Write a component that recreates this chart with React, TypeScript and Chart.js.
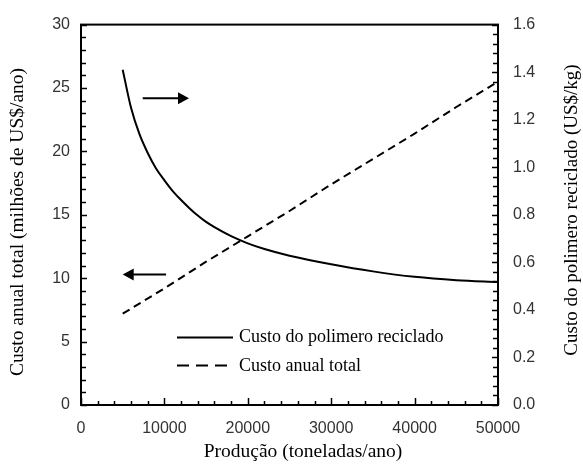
import React, { useEffect, useRef } from "react";
import { Chart, registerables } from "chart.js";

Chart.register(...registerables);

// Production (t/year) sampled along the recycled-polymer cost curve
const productionCurve = [5000, 6000, 7000, 8000, 9000, 10000, 11000, 12000, 13000, 14000, 15000, 16000, 18000, 20000, 22000, 25000, 30000, 35000, 40000, 45000, 50000];
// Recycled polymer cost (US$/kg), right axis
const polymerCost = [1.41, 1.25, 1.14, 1.06, 0.995, 0.945, 0.9, 0.862, 0.828, 0.797, 0.77, 0.748, 0.71, 0.68, 0.656, 0.628, 0.592, 0.562, 0.539, 0.525, 0.517];

// Production (t/year) for the total annual cost line
const productionAnnual = [5000, 10000, 15000, 20000, 25000, 30000, 35000, 40000, 45000, 50000];
// Total annual cost (million US$/year), left axis
const annualCost = [7.2, 9.2, 11.3, 13.3, 15.3, 17.4, 19.4, 21.4, 23.5, 25.5];

// Axis tick labels
const xTicks = [0, 10000, 20000, 30000, 40000, 50000];
const leftTicks = [0, 5, 10, 15, 20, 25, 30];
const rightTicks = [0, 0.2, 0.4, 0.6, 0.8, 1.0, 1.2, 1.4, 1.6];

// Arrows pointing each curve to its axis: [xFrom, xTo, yValue]
const arrowToRight = [7400, 12950, 1.29];
const arrowToLeft = [10200, 5000, 10.3];

const legendLabels = ["Custo do polimero reciclado", "Custo anual total"];

const SERIF = "'Liberation Serif', 'Times New Roman', serif";
const SANS = "'Liberation Sans', Arial, sans-serif";

const decorations = {
  id: "decorations",
  afterDatasetsDraw(chart: any) {
    const { ctx, chartArea, scales } = chart;
    const x = scales.x;
    const yl = scales.y;
    const yr = scales.y1;
    const { left, right, top, bottom } = chartArea;
    ctx.save();

    // inward tick marks
    ctx.strokeStyle = "#000";
    ctx.lineWidth = 1.5;
    ctx.beginPath();
    for (let v = 0; v <= 30; v += 1) {
      const py = Math.round(yl.getPixelForValue(v)) + 0.5;
      const len = v % 5 === 0 ? 6 : 5;
      ctx.moveTo(left, py);
      ctx.lineTo(left + len, py);
    }
    for (let i = 0; i <= 40; i++) {
      const py = Math.round(yr.getPixelForValue(i * 0.04)) + 0.5;
      const len = i % 5 === 0 ? 6 : 5;
      ctx.moveTo(right, py);
      ctx.lineTo(right - len, py);
    }
    for (let v = 0; v <= 50000; v += 2000) {
      const px = Math.round(x.getPixelForValue(v)) + 0.5;
      const len = v % 10000 === 0 ? 7 : 4;
      ctx.moveTo(px, bottom);
      ctx.lineTo(px, bottom - len);
    }
    ctx.stroke();

    // plot frame
    ctx.lineWidth = 2;
    ctx.strokeRect(left, top, right - left, bottom - top);

    // arrows
    const drawArrow = (x0: number, x1: number, py: number) => {
      const dir = x1 > x0 ? 1 : -1;
      ctx.lineWidth = 2;
      ctx.beginPath();
      ctx.moveTo(x0, py);
      ctx.lineTo(x1 - dir * 8, py);
      ctx.stroke();
      ctx.beginPath();
      ctx.moveTo(x1, py);
      ctx.lineTo(x1 - dir * 11, py - 6);
      ctx.lineTo(x1 - dir * 11, py + 6);
      ctx.closePath();
      ctx.fillStyle = "#000";
      ctx.fill();
    };
    drawArrow(x.getPixelForValue(arrowToRight[0]), x.getPixelForValue(arrowToRight[1]), yr.getPixelForValue(arrowToRight[2]));
    drawArrow(x.getPixelForValue(arrowToLeft[0]), x.getPixelForValue(arrowToLeft[1]), yl.getPixelForValue(arrowToLeft[2]));

    // legend
    const lx0 = left + 96;
    const lx1 = left + 152;
    const ly0 = top + 313;
    const ly1 = top + 341;
    ctx.lineWidth = 2;
    ctx.setLineDash([]);
    ctx.beginPath();
    ctx.moveTo(lx0, ly0);
    ctx.lineTo(lx1, ly0);
    ctx.stroke();
    ctx.setLineDash([12, 7]);
    ctx.beginPath();
    ctx.moveTo(lx0, ly1);
    ctx.lineTo(lx1 - 4, ly1);
    ctx.stroke();
    ctx.setLineDash([]);
    ctx.fillStyle = "#000";
    ctx.font = `18px ${SERIF}`;
    ctx.textBaseline = "middle";
    ctx.textAlign = "left";
    ctx.fillText(legendLabels[0], lx1 + 6, ly0);
    ctx.fillText(legendLabels[1], lx1 + 6, ly1 + 1);

    // axis titles
    ctx.textAlign = "center";
    ctx.font = `19.5px ${SERIF}`;
    ctx.save();
    ctx.translate(18, 222);
    ctx.rotate(-Math.PI / 2);
    ctx.fillText("Custo anual total (milhões de US$/ano)", 0, 0);
    ctx.restore();
    ctx.font = `19px ${SERIF}`;
    ctx.save();
    ctx.translate(572, 210);
    ctx.rotate(-Math.PI / 2);
    ctx.fillText("Custo do polimero reciclado (US$/kg)", 0, 0);
    ctx.restore();
    ctx.font = `19.5px ${SERIF}`;
    ctx.fillText("Produção (toneladas/ano)", 303, 452);

    ctx.restore();
  },
};

export default function App() {
  const ref = useRef<HTMLCanvasElement | null>(null);

  useEffect(() => {
    document.body.style.margin = "0";
    const canvas = ref.current;
    if (!canvas) return;
    const tickFont = { family: SANS, size: 16 };
    const chart = new Chart(canvas, {
      type: "line",
      data: {
        datasets: [
          {
            label: legendLabels[0],
            data: productionCurve.map((p, i) => ({ x: p, y: polymerCost[i] })),
            yAxisID: "y1",
            borderColor: "#000",
            borderWidth: 2,
            pointRadius: 0,
            fill: false,
            cubicInterpolationMode: "monotone",
          },
          {
            label: legendLabels[1],
            data: productionAnnual.map((p, i) => ({ x: p, y: annualCost[i] })),
            yAxisID: "y",
            borderColor: "#000",
            borderWidth: 2,
            borderDash: [8, 5],
            pointRadius: 0,
            fill: false,
            tension: 0,
          },
        ],
      },
      options: {
        responsive: false,
        animation: false,
        devicePixelRatio: 1,
        layout: { padding: { top: 15, left: 0, right: 0, bottom: 0 } },
        plugins: { legend: { display: false }, tooltip: { enabled: false } },
        scales: {
          x: {
            type: "linear",
            min: 0,
            max: 50000,
            grid: { display: false, drawTicks: false },
            border: { display: false },
            afterBuildTicks: (s: any) => {
              s.ticks = xTicks.map((v) => ({ value: v }));
            },
            ticks: { font: tickFont, color: "#333", padding: 14, maxRotation: 0, callback: (v: any) => String(v) },
            afterFit: (s: any) => {
              s.height = 63;
            },
          },
          y: {
            type: "linear",
            position: "left",
            min: 0,
            max: 30,
            grid: { display: false, drawTicks: false },
            border: { display: false },
            afterBuildTicks: (s: any) => {
              s.ticks = leftTicks.map((v) => ({ value: v }));
            },
            ticks: { font: tickFont, color: "#333", padding: 11, callback: (v: any) => String(v) },
            afterFit: (s: any) => {
              s.width = 81;
            },
          },
          y1: {
            type: "linear",
            position: "right",
            min: 0,
            max: 1.6,
            grid: { display: false, drawTicks: false },
            border: { display: false },
            afterBuildTicks: (s: any) => {
              s.ticks = rightTicks.map((v) => ({ value: v }));
            },
            ticks: { font: tickFont, color: "#333", padding: 15, callback: (v: any) => Number(v).toFixed(1) },
            afterFit: (s: any) => {
              s.width = 85;
            },
          },
        },
      },
      plugins: [decorations],
    } as any);
    return () => chart.destroy();
  }, []);

  return (
    <div style={{ position: "fixed", left: 0, top: 0, width: 583, height: 468, background: "#fff" }}>
      <canvas ref={ref} width={583} height={468} />
    </div>
  );
}
